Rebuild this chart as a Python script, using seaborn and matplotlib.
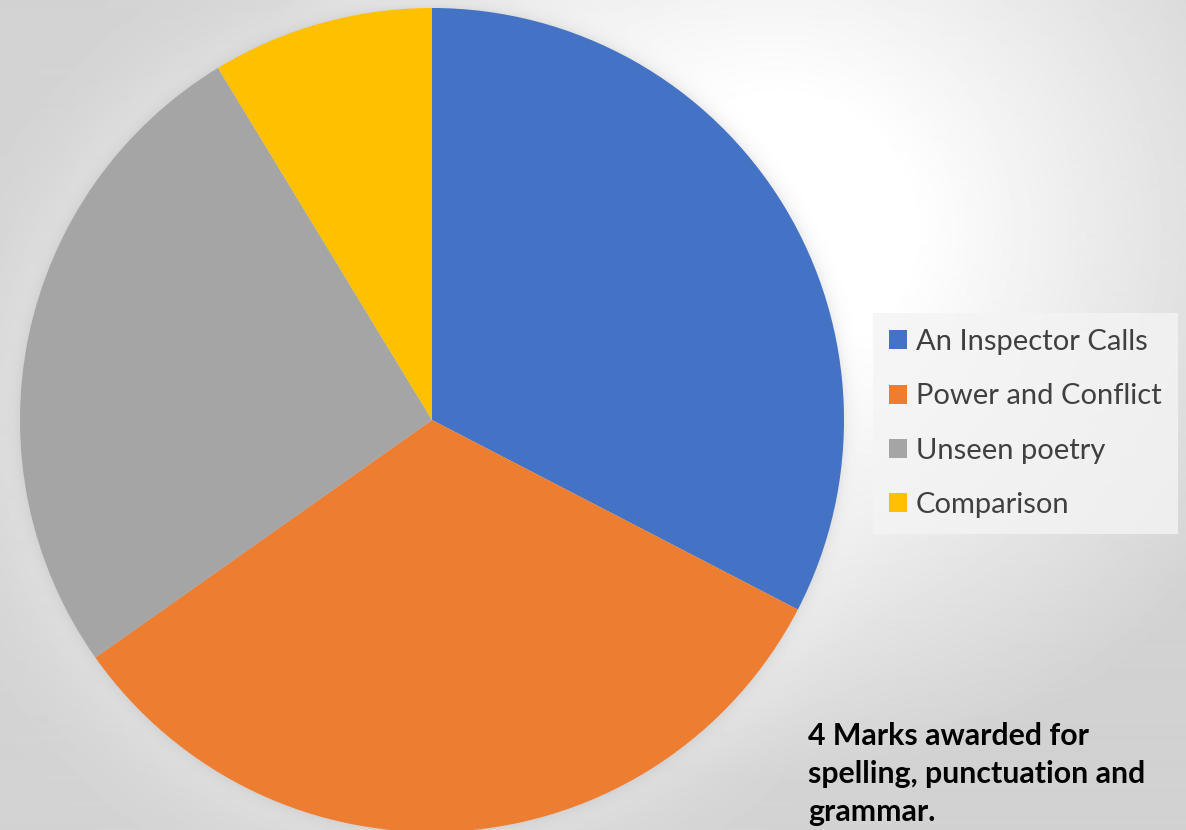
import numpy as np
import matplotlib
matplotlib.use("Agg")
import matplotlib.pyplot as plt
import seaborn as sns

# ---- data ----
categories = ["An Inspector Calls", "Power and Conflict", "Unseen poetry", "Comparison"]
marks = [30, 30, 24, 8]
colors_hex = ["#4472C4", "#ED7D31", "#A5A5A5", "#FFC000"]
note = "4 Marks awarded for\nspelling, punctuation and\ngrammar."

sns.set_style("white")
plt.rcParams["font.family"] = ["Lato", "DejaVu Sans"]
palette = sns.color_palette(colors_hex)

W, H = 1186, 830
fig = plt.figure(figsize=(W / 100, H / 100), dpi=100)

# ---- background gradient (slide style) ----
yy, xx = np.mgrid[0:H, 0:W].astype(float)
dc = np.hypot(xx - 780, yy - 230)
base = 255 - 45 * np.clip((dc - 130) / 420, 0, 1)
cx, cy, R = 432, 420, 412
e = np.hypot(xx - cx, yy - cy) - R
e = np.clip(e, 0, None)
halo = 0.35 * np.exp(-e / 45)
bg = base + (255 - base) * halo
bg = bg * (1 - 0.07 * np.exp(-e / 7))
ax_bg = fig.add_axes([0, 0, 1, 1])
ax_bg.imshow(bg, cmap="gray", vmin=0, vmax=255, extent=[0, W, H, 0], aspect="auto",
             interpolation="bilinear")
ax_bg.set_axis_off()

# ---- pie ----
ax = fig.add_axes([0, 0, 1, 1])
ax.patch.set_alpha(0)
wedges, _ = ax.pie(marks, colors=palette, startangle=90, counterclock=False,
                   center=(cx, H - cy), radius=R, wedgeprops=dict(linewidth=0))
ax.set_aspect("auto")
ax.set_xlim(0, W)
ax.set_ylim(0, H)
ax.set_axis_off()

leg = ax.legend(wedges, categories, loc="upper left",
                bbox_to_anchor=(873 / W, 1 - 313 / H), bbox_transform=fig.transFigure,
                borderaxespad=0, frameon=True, fancybox=False, fontsize=21,
                handlelength=0.62, handleheight=0.62, handletextpad=0.3,
                labelspacing=0.97, borderpad=0.55)
leg.get_frame().set_facecolor("#f4f4f4")
leg.get_frame().set_edgecolor("none")
leg.get_frame().set_alpha(0.8)
for t in leg.get_texts():
    t.set_color("#404040")

fig.text(808 / W, 1 - 722 / H, note, ha="left", va="top", fontsize=21.8,
         fontweight="bold", color="black", linespacing=1.44)

fig.savefig("out.png", dpi=100)
